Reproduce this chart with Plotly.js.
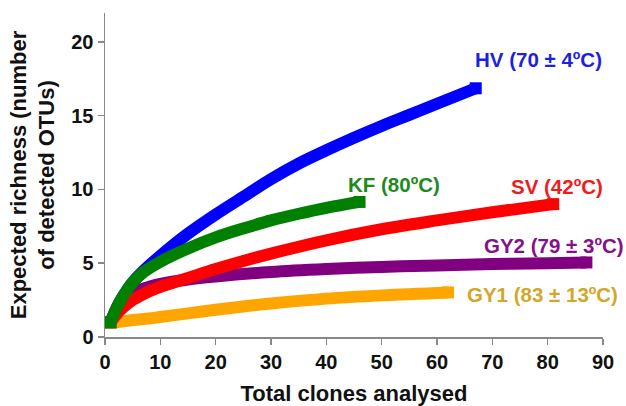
<!DOCTYPE html>
<html>
<head>
<meta charset="utf-8">
<script src="https://cdn.plot.ly/plotly-3.0.1.min.js"></script>
<style>html,body{margin:0;padding:0;background:#fff;}#chart{width:626px;height:406px;}</style>
</head>
<body>
<div id="chart"></div>
<script>
// Rarefaction curves: total clones analysed vs expected richness
const hvX = [1, 2, 3, 5, 7, 10, 15, 20, 25, 30, 35, 40, 45, 50, 55, 60, 67];
const hvY = [1, 1.9, 2.6, 3.7, 4.5, 5.5, 7.0, 8.3, 9.5, 10.7, 11.75, 12.65, 13.5, 14.3, 15.05, 15.8, 16.85];

const kfX = [1, 2, 3, 4, 5, 7, 10, 15, 20, 25, 30, 35, 40, 46];
const kfY = [1, 1.9, 2.6, 3.2, 3.7, 4.4, 5.1, 6.0, 6.75, 7.35, 7.9, 8.35, 8.75, 9.15];

const svX = [1, 2, 3, 5, 8, 10, 15, 20, 25, 30, 40, 50, 60, 70, 81];
const svY = [1, 1.5, 1.9, 2.5, 3.1, 3.4, 4.0, 4.6, 5.15, 5.65, 6.55, 7.3, 7.9, 8.45, 9.0];

const gy2X = [1, 2, 3, 5, 8, 10, 15, 20, 30, 40, 50, 60, 70, 80, 87];
const gy2Y = [1, 1.8, 2.4, 3.0, 3.4, 3.6, 3.9, 4.1, 4.4, 4.6, 4.75, 4.85, 4.95, 5.0, 5.05];

const gy1X = [1, 2, 5, 8, 10, 15, 20, 25, 30, 40, 50, 62];
const gy1Y = [1, 1.0, 1.15, 1.25, 1.35, 1.6, 1.85, 2.07, 2.27, 2.6, 2.82, 3.02];

const seriesNames = ["HV (70 ± 4ºC)", "KF (80ºC)", "SV (42ºC)", "GY2 (79 ± 3ºC)", "GY1 (83 ± 13ºC)"];
const lineColors = ["#0000ff", "#008000", "#ff0000", "#800080", "#ffa500"];
const labelColors = ["#1f1fe0", "#1e8a1e", "#ee1c1c", "#86108a", "#d2a72a"];
// label anchor positions in data units
const labelX = [78.3, 52.2, 81.6, 81.1, 79.0];
const labelY = [18.8, 10.3, 10.2, 6.2, 2.9];

const xTicks = [0, 10, 20, 30, 40, 50, 60, 70, 80, 90];
const yTicks = [0, 5, 10, 15, 20];

const xs = [hvX, kfX, svX, gy2X, gy1X];
const ys = [hvY, kfY, svY, gy2Y, gy1Y];
const drawOrder = [0, 3, 4, 2, 1]; // blue, purple, orange, red, green on top

const traces = drawOrder.map(i => ({
  x: xs[i], y: ys[i], type: "scatter", mode: "lines+markers", name: seriesNames[i],
  line: {color: lineColors[i], width: 12, shape: "spline", smoothing: 1},
  marker: {symbol: "square", color: lineColors[i], opacity: 1, line: {width: 0},
           size: xs[i].map((v, k) => (k === 0 || k === xs[i].length - 1) ? 12 : 0)},
  cliponaxis: false, hoverinfo: "skip"
}));

const annotations = seriesNames.map((t, i) => ({
  x: labelX[i], y: labelY[i], xref: "x", yref: "y", text: t, showarrow: false,
  xanchor: "center", yanchor: "middle",
  font: {family: "Liberation Sans, Arial, sans-serif", size: 20.5, color: labelColors[i], weight: "bold"}
}));

const tickFont = {family: "Liberation Sans, Arial, sans-serif", size: 20, color: "#111", weight: "bold"};
const titleFont = {family: "Liberation Sans, Arial, sans-serif", size: 22, color: "#111", weight: "bold"};

const layout = {
  width: 626, height: 406,
  margin: {l: 105, r: 23, t: 13, b: 69},
  paper_bgcolor: "#fff", plot_bgcolor: "#fff",
  showlegend: false,
  xaxis: {
    range: [0, 90], tickvals: xTicks, ticktext: xTicks.map(String),
    showline: true, linecolor: "#888", linewidth: 1.5, ticks: "outside", ticklen: 6, tickcolor: "#888", tickwidth: 1.5,
    showgrid: false, zeroline: false, tickfont: tickFont,
    title: {text: "Total clones analysed", font: titleFont, standoff: 15}
  },
  yaxis: {
    range: [0, 21.95], tickvals: yTicks, ticktext: yTicks.map(String),
    showline: true, linecolor: "#888", linewidth: 1.5, ticks: "outside", ticklen: 6, tickcolor: "#888", tickwidth: 1.5,
    showgrid: false, zeroline: false, tickfont: tickFont,
    title: {text: "Expected richness (number<br>of detected OTUs)", font: titleFont, standoff: 10}
  },
  annotations: annotations
};

Plotly.newPlot("chart", traces, layout, {staticPlot: true, displayModeBar: false});
</script>
</body>
</html>
